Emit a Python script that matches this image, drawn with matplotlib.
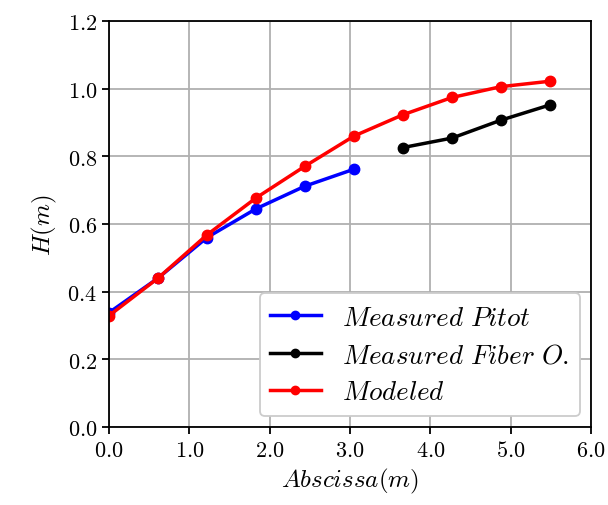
import matplotlib
matplotlib.use("Agg")
import matplotlib.pyplot as plt
from matplotlib.ticker import FormatStrFormatter, MultipleLocator

plt.rcParams["mathtext.fontset"] = "cm"
plt.rcParams["font.family"] = "serif"
plt.rcParams["font.serif"] = ["DejaVu Serif"]

# data
x_pitot = [0.0, 0.61, 1.22, 1.83, 2.44, 3.05]
h_pitot = [0.338, 0.440, 0.560, 0.645, 0.712, 0.762]

x_fiber = [3.66, 4.27, 4.88, 5.49]
h_fiber = [0.826, 0.854, 0.907, 0.952]

x_model = [0.0, 0.61, 1.22, 1.83, 2.44, 3.05, 3.66, 4.27, 4.88, 5.49]
h_model = [0.329, 0.440, 0.568, 0.677, 0.771, 0.860, 0.923, 0.974, 1.006, 1.022]

fig = plt.figure(figsize=(6.08, 5.06), dpi=100)
ax = fig.add_axes([109 / 608, 1 - 428 / 506, (591 - 109) / 608, (428 - 22) / 506])

ax.plot(x_pitot, h_pitot, "-o", color="blue", lw=2.5, ms=7.5, label=r"$Measured\ Pitot$")
ax.plot(x_fiber, h_fiber, "-o", color="black", lw=2.5, ms=7.5, label=r"$Measured\ Fiber\ O.$")
ax.plot(x_model, h_model, "-o", color="red", lw=2.5, ms=7.5, label=r"$Modeled$")

ax.set_xlim(0, 6)
ax.set_ylim(0, 1.2)
ax.xaxis.set_major_locator(MultipleLocator(1.0))
ax.yaxis.set_major_locator(MultipleLocator(0.2))
ax.xaxis.set_major_formatter(FormatStrFormatter("$%.1f$"))
ax.yaxis.set_major_formatter(FormatStrFormatter("$%.1f$"))
ax.tick_params(labelsize=16, direction="out", length=5, width=1.3)
ax.grid(True, color="#b0b0b0", lw=1.3)
ax.set_axisbelow(True)
for s in ax.spines.values():
    s.set_linewidth(1.3)

ax.set_xlabel(r"$Abscissa(m)$", fontsize=18, labelpad=4)
ax.set_ylabel(r"$H(m)$", fontsize=18, labelpad=6)

leg = ax.legend(loc="lower right", fontsize=19.5, framealpha=1.0, edgecolor="#cccccc",
                handlelength=1.85, borderaxespad=0.4, markerscale=0.8,
                labelspacing=0.38, handletextpad=0.8)
leg.get_frame().set_linewidth(1.3)

fig.savefig("out.png", dpi=100)
